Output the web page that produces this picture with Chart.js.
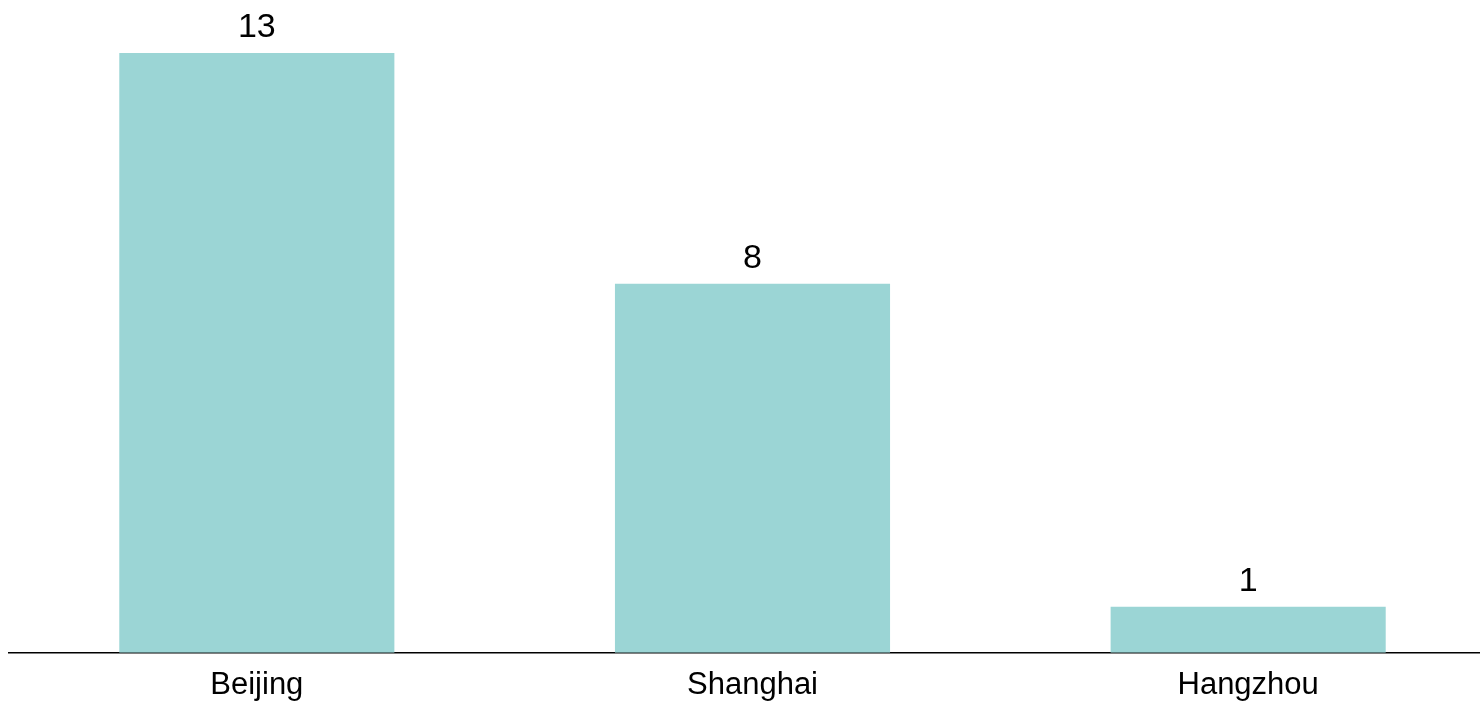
<!DOCTYPE html>
<html>
<head>
<meta charset="utf-8">
<script src="https://cdn.jsdelivr.net/npm/chart.js@4/dist/chart.umd.min.js"></script>
<style>
  html, body { margin: 0; padding: 0; background: #fff; overflow: hidden; }
  #wrap { width: 1496px; height: 718px; }
</style>
</head>
<body>
<div id="wrap"><canvas id="chart"></canvas></div>
<script>
const cities = ['Beijing', 'Shanghai', 'Hangzhou'];
const counts = [13, 8, 1];

const barColor = '#9BD5D5';
const fontFamily = '"Liberation Sans", Arial, sans-serif';

// draws the value above each bar
const valueLabels = {
  id: 'valueLabels',
  afterDatasetsDraw(chart) {
    const ctx = chart.ctx;
    const meta = chart.getDatasetMeta(0);
    ctx.save();
    ctx.font = '34px ' + fontFamily;
    ctx.fillStyle = '#000';
    ctx.textAlign = 'center';
    ctx.textBaseline = 'alphabetic';
    meta.data.forEach((bar, i) => {
      ctx.fillText(String(counts[i]), bar.x, bar.y - 16);
    });
    ctx.restore();
  }
};

new Chart(document.getElementById('chart'), {
  type: 'bar',
  data: {
    labels: cities,
    datasets: [{
      data: counts,
      backgroundColor: barColor,
      borderWidth: 0,
      barPercentage: 0.555,
      categoryPercentage: 1
    }]
  },
  options: {
    responsive: true,
    maintainAspectRatio: false,
    animation: false,
    layout: { padding: { left: 9, right: 0, top: 0, bottom: 0 } },
    plugins: {
      legend: { display: false },
      tooltip: { enabled: false }
    },
    scales: {
      x: {
        grid: { display: false, drawTicks: false },
        border: { display: true, color: '#000', width: 1.5 },
        ticks: {
          color: '#000',
          font: { family: fontFamily, size: 31 },
          padding: 14,
          maxRotation: 0,
          autoSkip: false
        }
      },
      y: {
        display: false,
        min: 0,
        max: 14.15
      }
    }
  },
  plugins: [valueLabels]
});
</script>
</body>
</html>
